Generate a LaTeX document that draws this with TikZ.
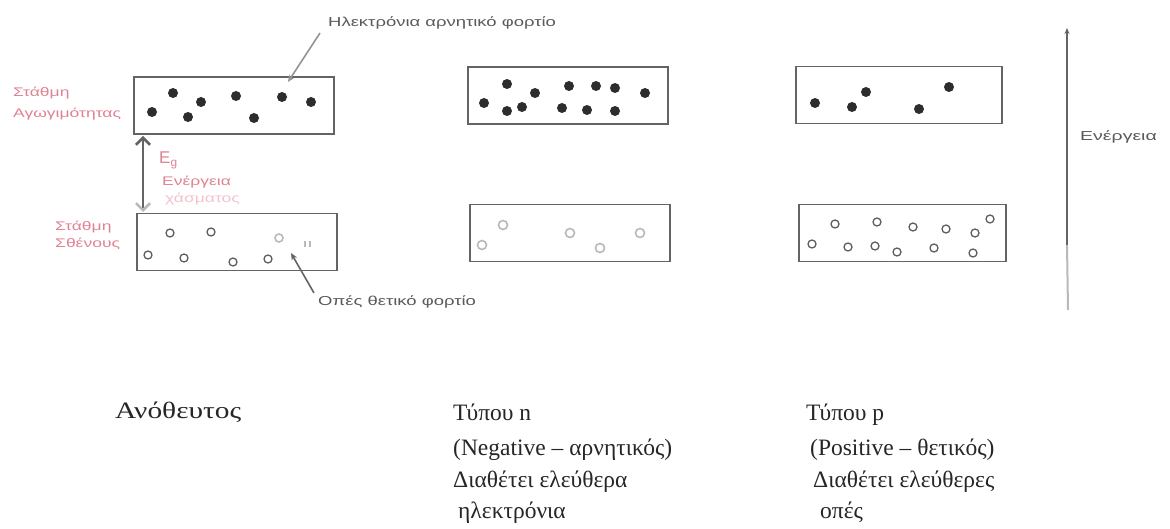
\documentclass[tikz,border=0pt]{standalone}
\usepackage{fontspec}
\setmainfont{Liberation Serif}
\newfontfamily\lsans{Liberation Sans}
\usetikzlibrary{arrows.meta}
\definecolor{bandgray}{RGB}{100,100,100}
\definecolor{dotgray}{RGB}{45,45,45}
\definecolor{holegray}{RGB}{95,95,95}
\definecolor{fadegray}{RGB}{185,185,185}
\definecolor{lbl}{RGB}{225,130,145}
\definecolor{lblfade}{RGB}{242,195,205}
\definecolor{txtgray}{RGB}{90,90,90}
\begin{document}
\begin{tikzpicture}[x=1pt,y=-1pt,
  band/.style={draw=bandgray, line width=1.8pt, minimum width=200pt, minimum height=57pt, inner sep=0pt},
  elec/.style={fill=dotgray},
  hole/.style={draw=holegray, line width=1.3pt},
  fhole/.style={draw=fadegray, line width=1.6pt},
  small/.style={font=\lsans\fontsize{13}{15}\selectfont, text=txtgray, inner sep=0pt, anchor=base west},
  pink/.style={font=\lsans\fontsize{12.5}{14}\selectfont, text=lbl, inner sep=0pt, anchor=base west},
  big/.style={font=\fontsize{23.5}{28}\selectfont, inner sep=0pt, anchor=base west, text=black!85},
  pointer/.style={draw=txtgray, line width=1.6pt, -{Stealth[length=7pt,width=6pt]}}
]
\useasboundingbox (0,0) rectangle (1170,529);
\fill[white] (0,0) rectangle (1170,529);

% bands
\node[band] (c1) at (234,105.5) {};
\node[band] (v1) at (237,242) {};
\node[band] (c2) at (568,95.5) {};
\node[band] (v2) at (570,233) {};
\node[band, minimum width=206pt] (c3) at (899,95) {};
\node[band, minimum width=207pt] (v3) at (902.5,233) {};

% electrons intrinsic
\foreach \p in {(152,112),(173,93),(188,117),(201,102),(236,96),(254,118),(282,97),(311,102)}
  \fill[elec] \p circle (5pt);
% holes intrinsic
\foreach \p in {(170,233),(211,232),(148,255),(184,258),(233,262),(268,259)}
  \draw[hole] \p circle (4pt);
\draw[fhole] (279,238) circle (4pt);
\draw[fhole] (305,241) -- (305,247) (310,241) -- (310,247);

% n-type electrons
\foreach \p in {(484,103),(507,84),(507,111),(522,107),(535,93),(569,86),(562,108),(596,86),(587,110),(615,88),(615,111),(645,93)}
  \fill[elec] \p circle (5pt);
% n-type holes (faint)
\foreach \p in {(503,225),(482,245),(570,233),(600,248),(640,233)}
  \draw[fhole] \p circle (4.5pt);

% p-type electrons
\foreach \p in {(815,103),(852,107),(866,92),(919,109),(949,87)}
  \fill[elec] \p circle (5pt);
% p-type holes
\foreach \p in {(835,224),(877,222),(913,227),(946,229),(990,219),(975,233),(812,244),(848,247),(875,246),(897,252),(934,248),(973,253)}
  \draw[hole] \p circle (4pt);

% energy gap arrow
\coordinate (egb) at (143,212);
\coordinate (egt) at (143,136);
\draw[draw=bandgray, line width=2.6pt,
  {Straight Barb[length=7pt,width=14pt,color=fadegray]}-{Straight Barb[length=7pt,width=14pt]}] (egb) -- (egt);
\node[font=\lsans\fontsize{17}{20}\selectfont, text=lbl, inner sep=0pt, anchor=base west] (eg) at (159,164) {E\textsubscript{g}};
\node[pink] (egtxt) at (162,186) {\scalebox{1.4}[1]{Ενέργεια}};
\node[pink, text=lblfade] (egtxt2) at (165,203) {\scalebox{1.4}[1]{χάσματος}};

% band labels
\node[pink] (cl1) at (13,97) {\scalebox{1.4}[1]{Στάθμη}};
\node[pink] (cl2) at (13,118) {\scalebox{1.4}[1]{Αγωγιμότητας}};
\node[pink] (vl1) at (55,231) {\scalebox{1.4}[1]{Στάθμη}};
\node[pink] (vl2) at (55,248) {\scalebox{1.4}[1]{Σθένους}};

% pointer labels
\node[small] (elab) at (328,27) {\scalebox{1.42}[1]{Ηλεκτρόνια  αρνητικό φορτίο}};
\coordinate (etip) at (288,82);
\coordinate (estart) at (320,33);
\draw[pointer, draw=fadegray!80!black] (estart) -- (etip);
\node[small] (hlab) at (318,306) {\scalebox{1.42}[1]{Οπές  θετικό φορτίο}};
\coordinate (hstart) at (314,293);
\coordinate (htip) at (291,253);
\draw[pointer, draw=bandgray] (hstart) -- (htip);

% energy axis
\coordinate (ax0) at (1068,310);
\coordinate (ax1) at (1067,245);
\coordinate (ax2) at (1067,28);
\draw[draw=fadegray, line width=2pt] (ax0) -- (ax1);
\draw[draw=bandgray, line width=2pt, -{Stealth[length=6pt,width=5pt]}] (ax1) -- (ax2);
\node[small] (axl) at (1080,141) {\scalebox{1.5}[1]{Ενέργεια}};

% captions
\node[big] (t1) at (115,418) {\scalebox{1.25}[1]{Ανόθευτος}};
\node[big] (n1) at (453,420) {Τύπου n};
\node[big] (n2) at (453,455) {(Negative – αρνητικός)};
\node[big] (n3) at (453,487) {Διαθέτει ελεύθερα};
\node[big] (n4) at (458,518) {ηλεκτρόνια};
\node[big] (p1) at (806,420) {Τύπου p};
\node[big] (p2) at (810,455) {(Positive – θετικός)};
\node[big] (p3) at (813,487) {Διαθέτει ελεύθερες};
\node[big] (p4) at (820,518) {οπές};
\end{tikzpicture}
\end{document}
